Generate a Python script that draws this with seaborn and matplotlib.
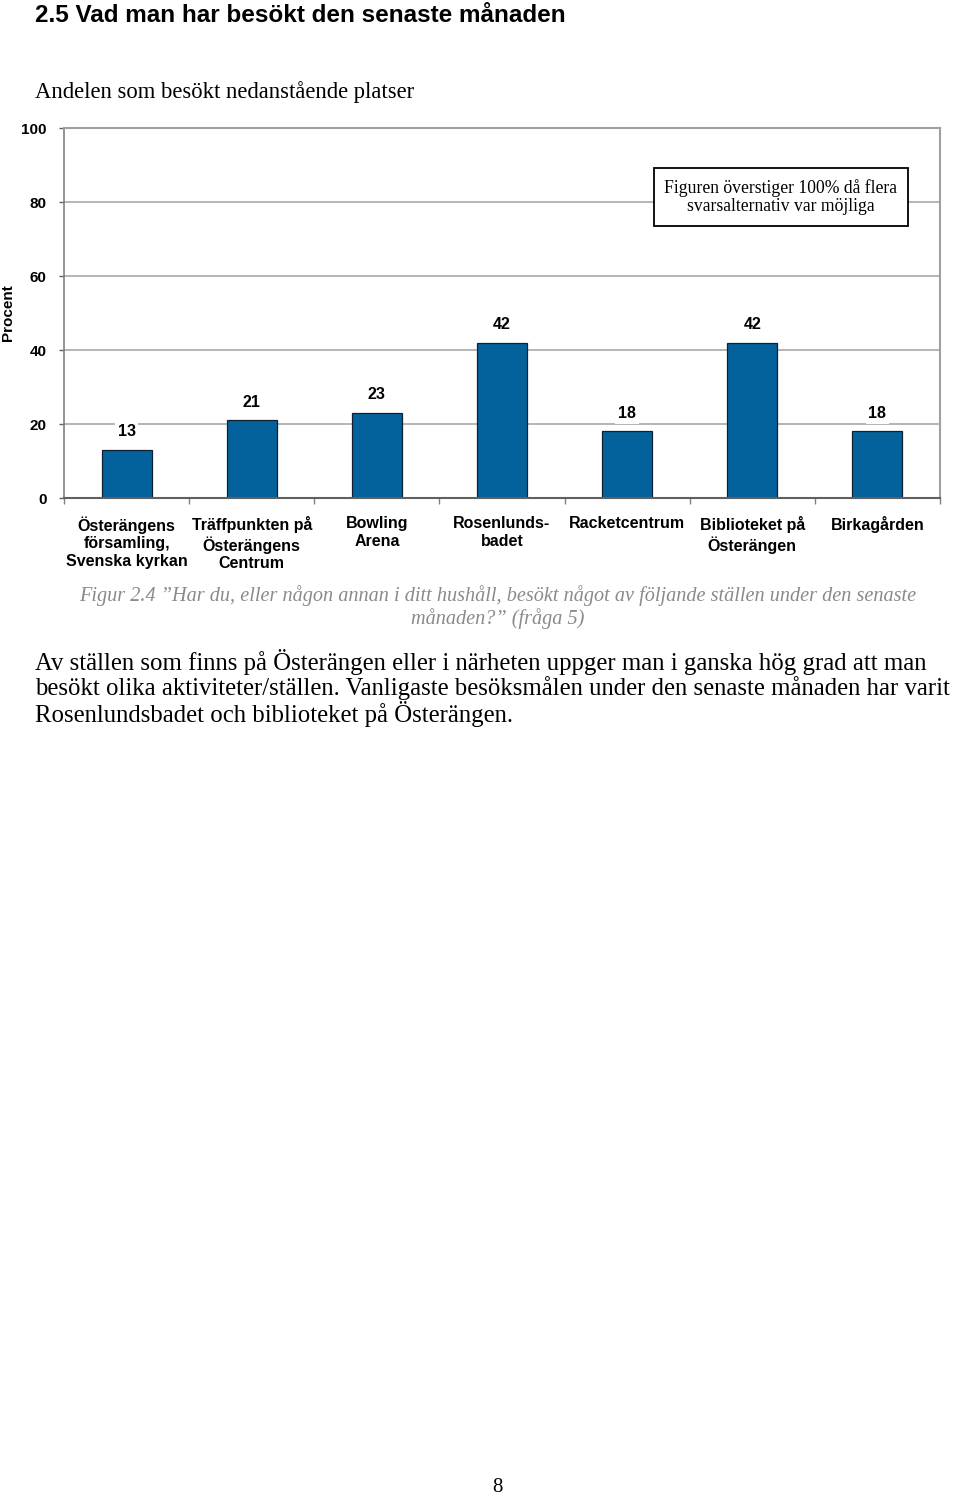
import matplotlib
matplotlib.use("Agg")
import matplotlib.pyplot as plt
import seaborn as sns
import pandas as pd

categories = ["Österängens\nförsamling,\nSvenska kyrkan", "Träffpunkten på\nÖsterängens\nCentrum",
              "Bowling\nArena", "Rosenlunds-\nbadet", "Racketcentrum", "Biblioteket på\nÖsterängen",
              "Birkagården"]
values = [13, 21, 23, 42, 18, 42, 18]
yticks = [0, 20, 40, 60, 80, 100]

sns.set_style("white")
plt.rcParams["font.family"] = ["Liberation Sans", "DejaVu Sans"]
plt.rcParams["text.color"] = "black"
plt.rcParams["axes.labelcolor"] = "black"
plt.rcParams["xtick.color"] = "black"
plt.rcParams["ytick.color"] = "black"

W, H = 960, 1497
fig = plt.figure(figsize=(W / 100, H / 100), dpi=100)
ax = fig.add_axes([64 / W, 1 - 498 / H, (940 - 64) / W, (498 - 128) / H])

df = pd.DataFrame({"cat": categories, "val": values})
sns.barplot(data=df, x="cat", y="val", ax=ax, color="#03629b", saturation=1,
            width=0.4, edgecolor="#102030", linewidth=0.9)

ax.set_xlim(-0.5, len(categories) - 0.5)
ax.set_ylim(0, 100)
ax.set_yticks(yticks)
ax.set_yticklabels([str(t) for t in yticks], fontsize=11, fontweight="bold")
ax.yaxis.grid(True, color="#a0a0a0", linewidth=1.1)
ax.set_axisbelow(True)
ax.tick_params(axis="y", length=3.5, width=1, color="#606060", pad=9, left=True)
ax.tick_params(axis="x", which="major", length=0, pad=13)
ax.set_xticks(range(len(categories)))
ax.set_xticklabels(categories, fontsize=11.5, fontweight="bold", linespacing=1.22, va="top")
ax.set_xticks([i - 0.5 for i in range(len(categories) + 1)], minor=True)
ax.tick_params(axis="x", which="minor", length=4, width=1, color="#808080", bottom=True)
ax.set_xlabel("")
ax.set_ylabel("Procent", fontsize=11, fontweight="bold")
ax.yaxis.set_label_coords(-49 / 876, 0.5)

for s in ["top", "right"]:
    ax.spines[s].set_visible(True)
    ax.spines[s].set_color("#a0a0a0")
    ax.spines[s].set_linewidth(1.5)
ax.spines["left"].set_color("#808080")
ax.spines["bottom"].set_color("#606060")
ax.spines["left"].set_linewidth(1.2)
ax.spines["bottom"].set_linewidth(1.5)

for i, v in enumerate(values):
    ax.annotate(str(v), (i, v), xytext=(0, 18), textcoords="offset pixels",
                ha="center", va="center", fontsize=11.5, fontweight="bold",
                bbox=dict(facecolor="white", edgecolor="none", pad=2))

def ftext(x, y, s, **kw):
    fig.text(x / W, 1 - y / H, s, **kw)

ftext(35, 15, "2.5 Vad man har besökt den senaste månaden", fontsize=17.5, fontweight="bold",
      va="center", ha="left")
serif = ["Liberation Serif", "DejaVu Serif"]
ftext(35, 92, "Andelen som besökt nedanstående platser", fontsize=16.3, family=serif,
      va="center", ha="left")
ftext(781, 197, "Figuren överstiger 100% då flera\nsvarsalternativ var möjliga", fontsize=12.7,
      family=serif, ha="center", va="center", linespacing=1.1,
      bbox=dict(facecolor="white", edgecolor="black", linewidth=1.3, boxstyle="square,pad=0.6"))
ftext(498, 607, "Figur 2.4 ”Har du, eller någon annan i ditt hushåll, besökt något av följande ställen under den senaste\nmånaden?” (fråga 5)",
      fontsize=14.6, family=serif, style="italic", color="#8a8a8a", ha="center", va="center",
      linespacing=1.12)
body = ("Av ställen som finns på Österängen eller i närheten uppger man i ganska hög grad att man\n"
        "besökt olika aktiviteter/ställen. Vanligaste besöksmålen under den senaste månaden har varit\n"
        "Rosenlundsbadet och biblioteket på Österängen.")
ftext(35, 688, body, fontsize=17.8, family=serif, ha="left", va="center", linespacing=1.04)
ftext(497, 1488, "8", fontsize=15, family=serif, ha="center", va="center")

fig.savefig("out.png", dpi=100)
